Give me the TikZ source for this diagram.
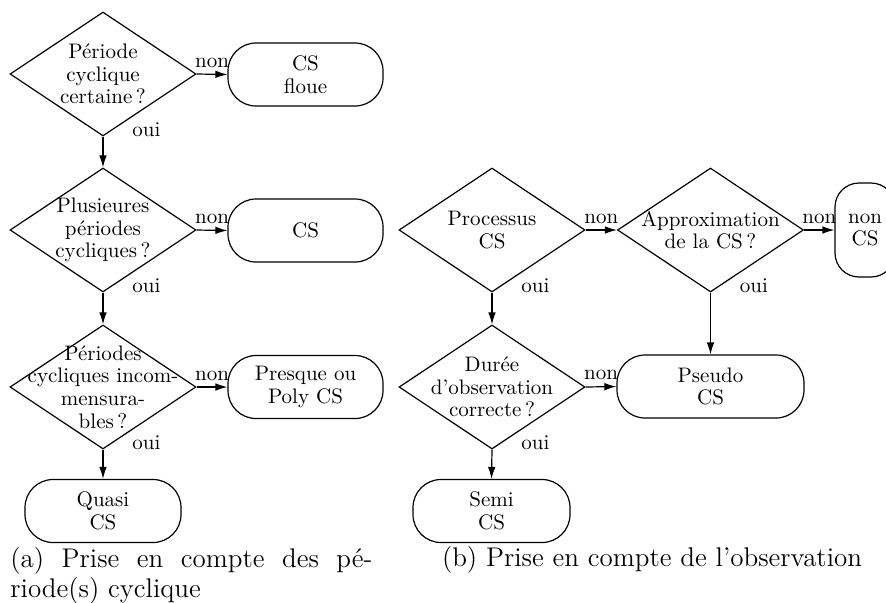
\documentclass[tikz,border=0pt]{standalone}
\usetikzlibrary{shapes.geometric,arrows.meta}
\begin{document}
\begin{tikzpicture}[x=0.5pt,y=-0.5pt,
  every node/.style={font=\fontsize{10.5}{11.3}\selectfont},
  dec/.style={draw, diamond, minimum width=93pt, minimum height=62pt, inner sep=0pt, line width=0.6pt},
  term/.style={draw, rectangle, rounded corners=14pt, minimum width=77.5pt, minimum height=31.5pt, inner sep=0pt, line width=0.6pt, align=center},
  txt/.style={align=center, inner sep=0pt},
  lbl/.style={inner sep=3pt},
  yes/.style={anchor=base west, inner sep=0pt},
  arr/.style={-{Latex[length=6pt,width=3.8pt]}, line width=0.6pt},
  captxt/.style={font=\fontsize{13.5}{15}\selectfont, inner sep=0pt},
]
\clip (0,0) rectangle (886,602);

% ---------- (a) ----------
\node[dec] (d1) at (103,74) {};
\node[txt] (t1) at (d1.center) {Période\\cyclique\\certaine\,?};
\node[term] (b1) at (305.5,74.5) {CS\\floue};

\node[dec] (d2) at (103,230) {};
\node[txt] (t2) at (d2.center) {Plusieures\\périodes\\cycliques\,?};
\node[term] (b2) at (305.5,230.5) {CS};

\node[dec] (d3) at (103,387) {};
\node[txt] (t3) at (d3.center) {Périodes\\cycliques incom-\\mensura-\\bles\,?};
\node[term] (b3) at (305.5,387) {Presque ou\\Poly CS};

\node[term, minimum width=78pt] (b4) at (103,511) {Quasi\\CS};

\draw[arr] (d1.east) -- node[lbl, above] {non} (b1.west);
\draw[arr] (d2.east) -- node[lbl, above] {non} (b2.west);
\draw[arr] (d3.east) -- node[lbl, above] {non} (b3.west);
\draw[arr] (d1.south) -- (d2.north);
\draw[arr] (d2.south) -- (d3.north);
\draw[arr] (d3.south) -- (b4.north);
\node[yes] (o1) at ([xshift=14.5pt]d1.south) {oui};
\node[yes] (o2) at ([xshift=14.5pt]d2.south) {oui};
\node[yes] (o3) at ([xshift=14.5pt]d3.south) {oui};

\node[captxt, text width=181pt, align=justify, anchor=north west] (capa) at (10,547)
  {(a) Prise en compte des pé-\linebreak riode(s) cyclique};

% ---------- (b) ----------
\node[dec] (p1) at (492,230) {};
\node[txt] (tp1) at (p1.center) {Processus\\CS};
\node[dec] (ap) at (710.5,230) {};
\node[txt] (tap) at (ap.center) {Approximation\\de la CS\,?};
\node[term, rounded corners=12pt, minimum width=30pt, minimum height=47pt] (nc) at (865,230) {non\\CS};

\node[dec] (du) at (492,387) {};
\node[txt] (tdu) at (du.center) {Durée\\d'observation\\correcte\,?};
\node[term, minimum width=93.5pt] (ps) at (710.5,386.5) {Pseudo\\CS};
\node[term, minimum width=78.5pt] (se) at (491.5,511) {Semi\\CS};

\draw[arr] (p1.east) -- node[lbl, above] {non} (ap.west);
\draw[arr] (ap.east) -- node[lbl, above] {non} (nc.west);
\draw[arr] (du.east) -- node[lbl, above] {non} (ps.west);
\draw[arr] (p1.south) -- (du.north);
\draw[arr] (ap.south) -- (ps.north);
\draw[arr] (du.south) -- (se.north);
\node[yes] (o4) at ([xshift=14.5pt]p1.south) {oui};
\node[yes] (o5) at ([xshift=14.5pt]ap.south) {oui};
\node[yes] (o6) at ([xshift=14.5pt]du.south) {oui};

\node[captxt, anchor=base] (capb) at (652,566) {(b) Prise en compte de l'observation};
\end{tikzpicture}
\end{document}
